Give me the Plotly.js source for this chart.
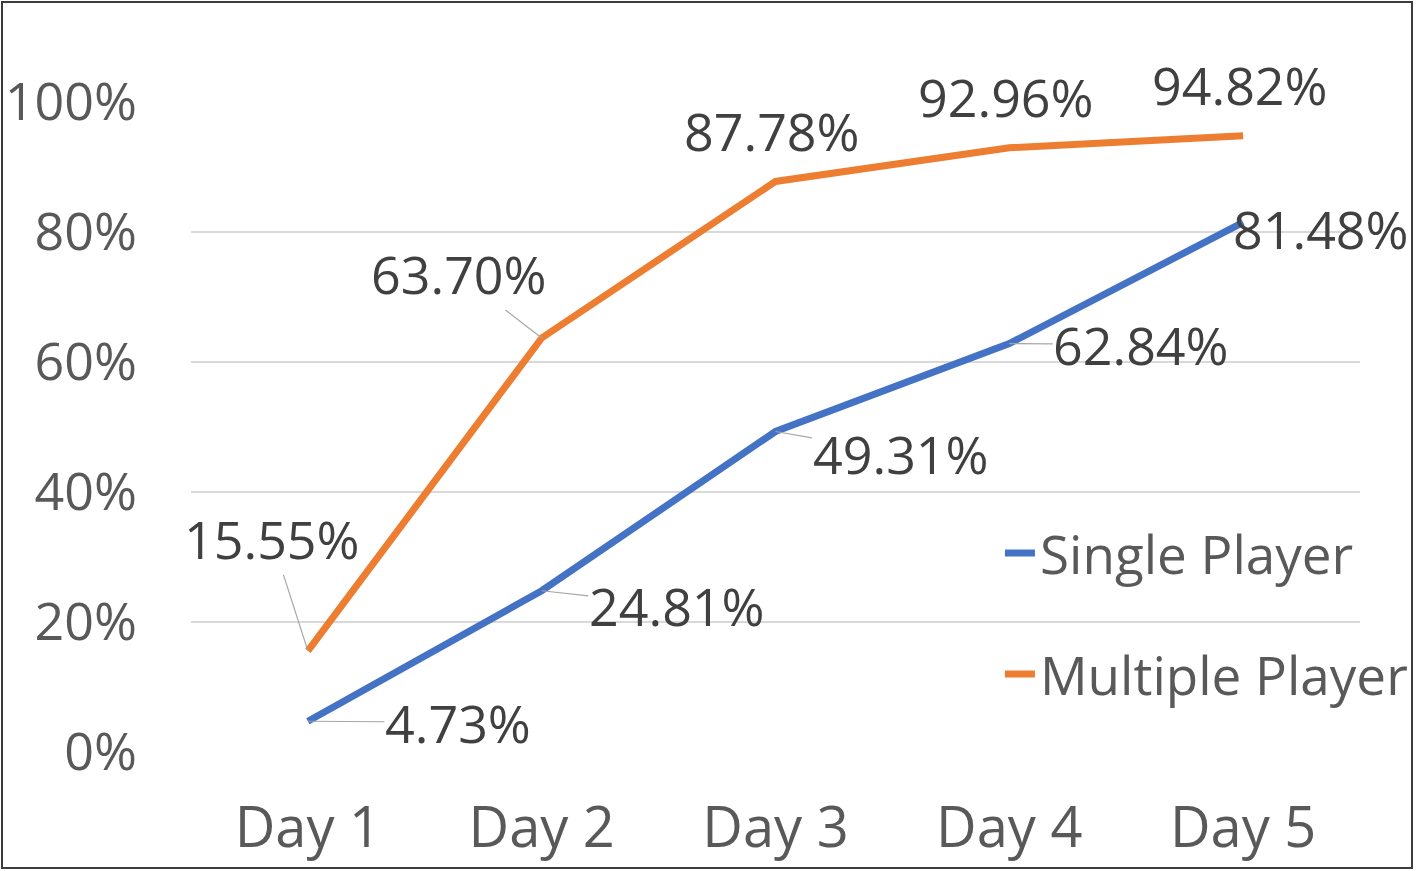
<!DOCTYPE html>
<html>
<head>
<meta charset="utf-8">
<script src="https://cdn.plot.ly/plotly-3.0.1.min.js"></script>
<style>
  html, body { margin: 0; padding: 0; background: #fff; }
  #wrap { position: relative; width: 1418px; height: 871px; }
  #chart { position: absolute; left: 0; top: 0; width: 1418px; height: 871px; }
  #frame { position: absolute; left: 1px; top: 1px; width: 1412px; height: 868px; box-sizing: border-box; border: 2px solid #3c3c3c; pointer-events: none; }
</style>
</head>
<body>
<div id="wrap"><div id="chart"></div><div id="frame"></div></div>
<script>
// ---- data ----
const days = ["Day 1", "Day 2", "Day 3", "Day 4", "Day 5"];
const singlePlayer = [0.0473, 0.2481, 0.4931, 0.6284, 0.8148];
const multiplePlayer = [0.1555, 0.6370, 0.8778, 0.9296, 0.9482];
const seriesNames = ["Single Player", "Multiple Player"];
const yTicks = [0, 0.2, 0.4, 0.6, 0.8, 1.0];

// ---- label placement (pixel offsets from the point) ----
const singleOffsets = [[150, 1], [135, 15], [125, 22], [132, 1], [78, 6]];
const singleLeader = [true, true, true, true, false];
const multiOffsets = [[-36, -112], [-83, -64], [-4, -51], [-3, -51], [-3, -51]];
const multiLeader = [true, true, false, false, false];

const FONT = "Open Sans, Noto Sans, sans-serif";
const BLUE = "#4472C4", ORANGE = "#ED7D31";

function fmt(v) { return (v * 100).toFixed(2) + "%"; }

const annotations = [];
function addLabels(vals, offs, leaders) {
  vals.forEach((v, i) => {
    annotations.push({
      x: days[i], y: v, xref: "x", yref: "y",
      text: fmt(v),
      showarrow: true, arrowhead: 0, arrowwidth: 1.2,
      arrowcolor: leaders[i] ? "#A6A6A6" : "rgba(0,0,0,0)",
      ax: offs[i][0], ay: offs[i][1], axref: "pixel", ayref: "pixel",
      standoff: 0, borderpad: 0,
      font: { family: FONT, size: 52, color: "#404040" }
    });
  });
}
addLabels(singlePlayer, singleOffsets, singleLeader);
addLabels(multiplePlayer, multiOffsets, multiLeader);

const traces = [
  { x: days, y: singlePlayer, name: seriesNames[0], type: "scatter", mode: "lines",
    line: { color: BLUE, width: 7 }, legendgroup: "a", hoverinfo: "skip" },
  { x: days, y: multiplePlayer, name: seriesNames[1], type: "scatter", mode: "lines",
    line: { color: ORANGE, width: 7 }, legendgroup: "b", hoverinfo: "skip" }
];

const layout = {
  width: 1418, height: 871,
  margin: { l: 191, r: 58, t: 102, b: 119, autoexpand: false },
  paper_bgcolor: "#fff", plot_bgcolor: "#fff",
  font: { family: FONT, color: "#595959" },
  showlegend: true,
  legend: {
    x: 0.692, y: 0.369, xanchor: "left", yanchor: "top",
    font: { family: FONT, size: 53, color: "#595959" },
    bgcolor: "rgba(0,0,0,0)", traceorder: "grouped", tracegroupgap: 49
  },
  xaxis: {
    type: "category", range: [-0.5, 4.5], showgrid: false, zeroline: false,
    showline: false, ticks: "", ticklabelstandoff: 38, automargin: false,
    tickfont: { family: FONT, size: 56, color: "#595959" }
  },
  yaxis: {
    range: [0, 1], tickvals: yTicks, tickformat: ".0%", automargin: false,
    showgrid: true, gridcolor: "#D9D9D9", gridwidth: 1.5,
    zeroline: false, showline: false, ticks: "", ticklabelstandoff: 53,
    tickfont: { family: FONT, size: 52, color: "#595959" }
  },
  annotations: annotations
};

Plotly.newPlot("chart", traces, layout, { staticPlot: true });
</script>
</body>
</html>
